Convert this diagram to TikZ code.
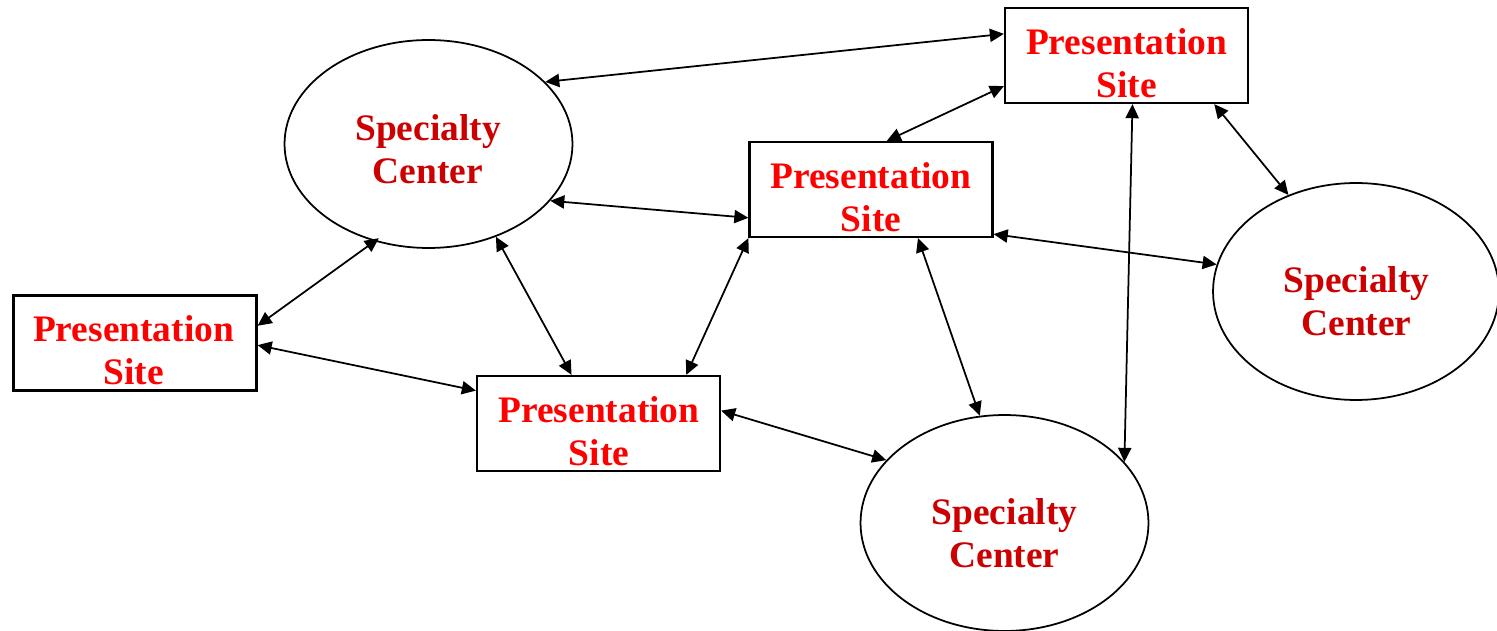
\documentclass[tikz,border=0pt]{standalone}
\usepackage{fontspec}
\setmainfont{Liberation Serif}
\usetikzlibrary{arrows.meta,shapes.geometric}
\definecolor{sitered}{RGB}{255,0,0}
\definecolor{centerred}{RGB}{204,0,0}

\begin{document}
\begin{tikzpicture}[x=0.02cm, y=-0.02cm,
    sitebox/.style={draw, rectangle, line width=1.3pt, inner sep=0pt,
        minimum width=4.86cm, minimum height=1.9cm},
    centerring/.style={draw, ellipse, line width=1pt, inner sep=0pt,
        minimum width=5.76cm, minimum height=4.16cm},
    sitetext/.style={sitered, align=center, font={\fontsize{21.3}{24.4}\selectfont\bfseries}},
    centertext/.style={centerred, align=center, font={\fontsize{21.3}{24.4}\selectfont\bfseries}},
    link/.style={{Triangle[length=8pt,width=7.5pt]}-{Triangle[length=8pt,width=7.5pt]}, line width=1pt}]
    \useasboundingbox (0,0) rectangle (1497,631);

    % Presentation sites
    \node[sitebox] (p1) at (1126.5,55.5) {};
    \node[sitebox] (p2) at (871,189.5) {};
    \node[sitebox] (p3) at (135,343) {};
    \node[sitebox] (p4) at (598.5,423.5) {};
    \node[sitetext] (p1t) at (1126.5,63) {Presentation\\Site};
    \node[sitetext] (p2t) at (871,197.5) {Presentation\\Site};
    \node[sitetext] (p3t) at (133.5,350) {Presentation\\Site};
    \node[sitetext] (p4t) at (599,431) {Presentation\\Site};

    % Specialty centers
    \node[centerring] (s1) at (428.5,144) {};
    \node[centerring, minimum width=5.72cm, minimum height=4.34cm] (s2) at (1356,291.5) {};
    \node[centerring, minimum height=4.32cm] (s3) at (1004.5,523) {};
    \node[centertext] (s1t) at (428,149.5) {Specialty\\Center};
    \node[centertext] (s2t) at (1356.5,301) {Specialty\\Center};
    \node[centertext] (s3t) at (1004.5,533) {Specialty\\Center};

    % Links
    \draw[link] (s1.28) -- (p1.170);
    \draw[link] (p2.72) -- (p1.194);
    \draw[link] (p1.331) -- (s2.125);
    \draw[link] (p1.277.5) -- (s3.27);
    \draw[link] (s1.335) -- (p2.193);
    \draw[link] (p2.340) -- (s2.169);
    \draw[link] (p2.314) -- (s3.103);
    \draw[link] (p2.south west) -- (p4.29);
    \draw[link, shorten <=-3pt] (s1.241) -- (p3.8);
    \draw[link] (s1.306) -- (p4.119);
    \draw[link] (p3.359) -- (p4.165);
    \draw[link] (p4.6) -- (s3.152);
\end{tikzpicture}
\end{document}
